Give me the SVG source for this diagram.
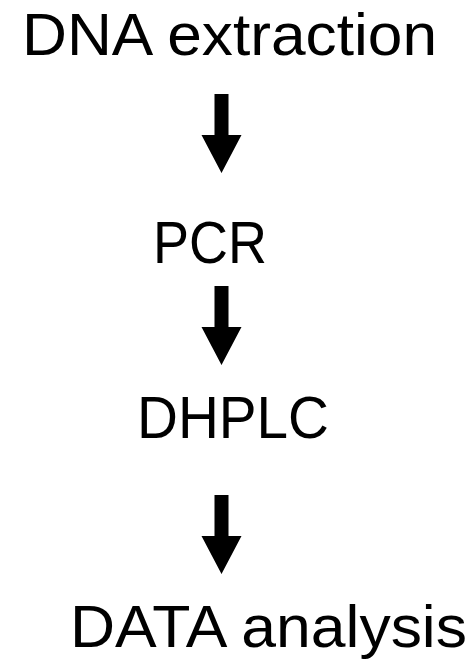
<svg xmlns="http://www.w3.org/2000/svg" width="474" height="664" viewBox="0 0 474 664">
  <style>
    .step { font-family: "Liberation Sans", Arial, sans-serif; font-size: 60px; fill: #000; }
    .arrow { fill: #000; }
  </style>
  <defs>
    <!-- block down-arrow: shaft 14 wide, head 40 wide; origin at shaft top centre -->
    <path id="down" d="M -7 0 H 7 V 41 H 20 L 0 79 L -20 41 H -7 Z"/>
  </defs>
  <rect width="474" height="664" fill="#fff"/>

  <g id="dna-extraction">
    <text class="step" x="22" y="55" textLength="415" lengthAdjust="spacingAndGlyphs">DNA extraction</text>
  </g>
  <g id="pcr">
    <text class="step" x="153" y="263" textLength="114" lengthAdjust="spacingAndGlyphs">PCR</text>
  </g>
  <g id="dhplc">
    <text class="step" x="137" y="438" textLength="192" lengthAdjust="spacingAndGlyphs">DHPLC</text>
  </g>
  <g id="data-analysis">
    <text class="step" x="70" y="647" textLength="397" lengthAdjust="spacingAndGlyphs">DATA analysis</text>
  </g>

  <g id="connectors" class="arrow">
    <use href="#down" x="221.5" y="94"/>
    <use href="#down" x="221.5" y="286"/>
    <use href="#down" x="221.5" y="495"/>
  </g>
</svg>
